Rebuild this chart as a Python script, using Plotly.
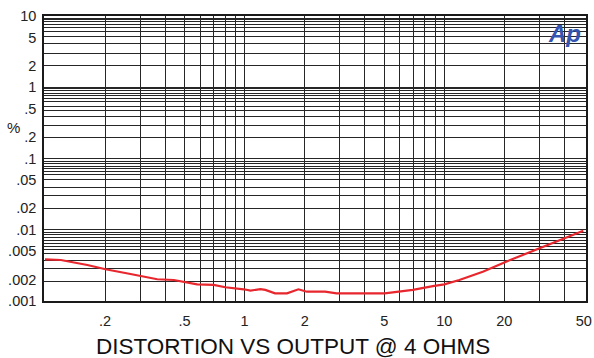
import plotly.graph_objects as go

# Curve data (output W, THD+N %)
power_w = [0.1, 0.12, 0.163, 0.201, 0.268, 0.365, 0.442, 0.515, 0.578, 0.70, 0.80, 0.99,
           1.07, 1.20, 1.27, 1.42, 1.63, 1.86, 2.05, 2.53, 2.89, 5.03, 5.98, 6.96,
           8.77, 10.0, 11.9, 15.6, 20.4, 29.9, 40.6, 49.7]
thd_pct = [0.00385, 0.00376, 0.0032, 0.00279, 0.00239, 0.00202, 0.00197, 0.00183, 0.00171,
           0.00168, 0.00156, 0.00146, 0.0014, 0.00147, 0.00143, 0.00128, 0.00128, 0.00146,
           0.00135, 0.00135, 0.00128, 0.00128, 0.00136, 0.00143, 0.00162, 0.00171, 0.00197,
           0.00258, 0.00356, 0.0055, 0.0076, 0.0097]

# Tick labels
x_tickvals = [0.2, 0.5, 1, 2, 5, 10, 20, 50]
x_ticktext = [".2", ".5", "1", "2", "5", "10", "20", "50"]
y_tickvals = [10, 5, 2, 1, 0.5, 0.2, 0.1, 0.05, 0.02, 0.01, 0.005, 0.002, 0.001]
y_ticktext = ["10", "5", "2", "1", ".5", ".2", ".1", ".05", ".02", ".01", ".005", ".002", ".001"]

# Grid lines
x_grid = [0.2, 0.3, 0.4, 0.5, 0.6, 0.7, 0.8, 0.9, 1, 2, 3, 4, 5, 6, 7, 8, 9, 10, 20, 30, 40]
y_grid = [9.37, 8.79, 8.24, 7.56, 6.93, 6.09, 5.13, 4.05, 2.99, 2.03, 1.0,
          0.955, 0.896, 0.823, 0.754, 0.691, 0.621, 0.545, 0.469, 0.386, 0.292, 0.198, 0.1,
          0.0922, 0.0845, 0.0778, 0.0713, 0.0653, 0.0587, 0.0504, 0.0398, 0.0301, 0.0196, 0.01,
          0.0092, 0.0085, 0.0078, 0.0071, 0.0064, 0.0058, 0.0052, 0.0046, 0.0037, 0.0029, 0.0019]

title_text = "DISTORTION VS OUTPUT @ 4 OHMS"

fig = go.Figure()
fig.add_trace(go.Scatter(x=power_w, y=thd_pct, mode="lines",
                         line=dict(color="#e8262d", width=2.2), showlegend=False,
                         hoverinfo="skip"))

font_family = "Liberation Sans, Arial, sans-serif"
grid_col = "#262626"

fig.update_layout(
    width=594, height=358,
    margin=dict(l=44, r=8, t=16, b=57),
    paper_bgcolor="white", plot_bgcolor="white",
    font=dict(family=font_family, color="#222222"),
    xaxis=dict(type="log", range=[-1.005, 1.71], automargin=False,
               tickmode="array", tickvals=x_tickvals, ticktext=x_ticktext,
               showgrid=False, zeroline=False,
               ticks="outside", ticklen=6, tickcolor="rgba(0,0,0,0)",
               tickfont=dict(size=14.5, color="#222222"),
               showline=True, linecolor="#1a1a1a", linewidth=1.5, mirror=True,
               minor=dict(tickmode="array", tickvals=x_grid, showgrid=True,
                          gridcolor=grid_col, gridwidth=1.2, ticks="")),
    yaxis=dict(type="log", range=[-3, 1], automargin=False,
               tickmode="array", tickvals=y_tickvals, ticktext=y_ticktext,
               showgrid=False, zeroline=False,
               ticks="outside", ticklen=3, tickcolor="rgba(0,0,0,0)",
               tickfont=dict(size=14.5, color="#222222"),
               showline=True, linecolor="#1a1a1a", linewidth=1.5, mirror=True,
               minor=dict(tickmode="array", tickvals=y_grid, showgrid=True,
                          gridcolor=grid_col, gridwidth=1.2, ticks="")),
)

fig.add_annotation(text="%", xref="paper", yref="paper", x=-0.04, y=0.61,
                   xanchor="right", yanchor="middle", showarrow=False,
                   font=dict(size=15, color="#222222", family=font_family))
fig.add_annotation(text="<b><i>Ap</i></b>", xref="paper", yref="paper", x=0.995, y=0.992,
                   xanchor="right", yanchor="top", showarrow=False,
                   font=dict(size=24, color="#3553b0", family=font_family))
fig.add_annotation(text=title_text, xref="paper", yref="paper",
                   x=(292.5 - 44) / 542, y=-(346.5 - 301) / 285,
                   xanchor="center", yanchor="middle", showarrow=False,
                   font=dict(size=22.5, color="#111111", family=font_family))

fig.write_html("out.html", config={"displayModeBar": False},
               post_script="document.body.style.margin='0';")
